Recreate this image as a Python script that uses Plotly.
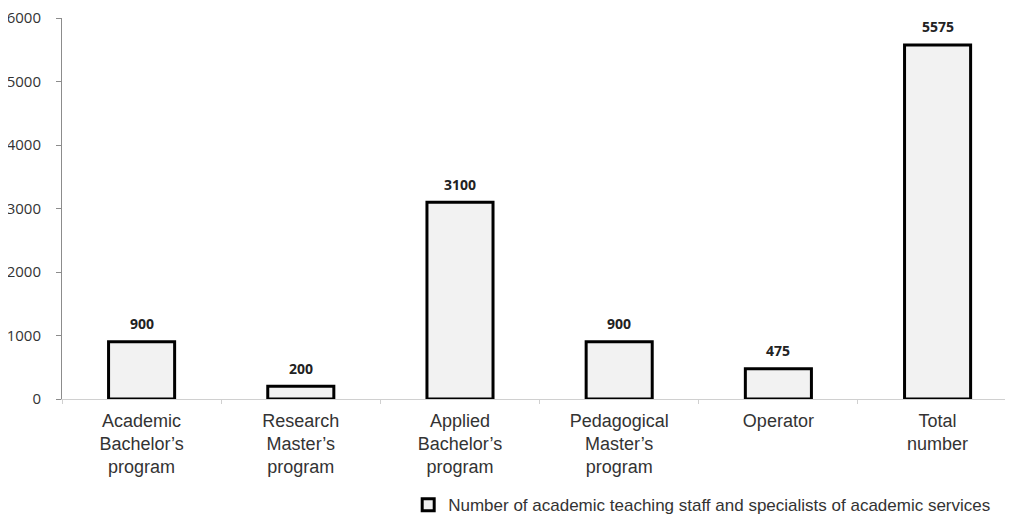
import plotly.graph_objects as go

categories = ["Academic<br>Bachelor’s<br>program", "Research<br>Master’s<br>program",
              "Applied<br>Bachelor’s<br>program", "Pedagogical<br>Master’s<br>program",
              "Operator", "Total<br>number"]
values = [900, 200, 3100, 900, 475, 5575]
series_name = "Number of academic teaching staff and specialists of academic services"
y_ticks = [0, 1000, 2000, 3000, 4000, 5000, 6000]

fig = go.Figure()
fig.add_trace(go.Bar(
    x=categories, y=values, name=series_name,
    width=0.415,
    marker=dict(color="#f2f2f2", line=dict(color="black", width=3)),
    showlegend=True,
))

for c, v in zip(categories, values):
    fig.add_annotation(x=c, y=v, text=f"<b>{v}</b>", showarrow=False,
                       yshift=18, font=dict(family="Open Sans", size=14, color="#222"))

fig.update_layout(
    width=1013, height=515,
    margin=dict(l=54, r=0, t=10, b=124, autoexpand=False),
    plot_bgcolor="white", paper_bgcolor="white",
    xaxis=dict(
        range=[-0.5, 5.524], automargin=False,
        showline=True, linecolor="#d0d0d0", linewidth=1,
        ticks="outside", tickson="boundaries", ticklen=4, tickcolor="#d0d0d0",
        ticklabelstandoff=5,
        tickfont=dict(family="Liberation Sans", size=18, color="#333"),
        showgrid=False,
    ),
    yaxis=dict(
        range=[0, 6000], tickvals=y_ticks, automargin=False,
        ticklabeloverflow="allow",
        showline=True, linecolor="#8c8c8c", linewidth=1,
        ticks="outside", ticklen=5, tickcolor="#8c8c8c",
        ticklabelstandoff=12,
        tickfont=dict(family="Open Sans", size=15, color="#333"),
        showgrid=False, zeroline=False,
    ),
    legend=dict(orientation="h", x=0.361, xanchor="left", y=-0.279, yanchor="middle",
                itemwidth=30,
                font=dict(family="Liberation Sans", size=17, color="#333")),
    bargap=0.6,
)

fig.write_html("out.html")
